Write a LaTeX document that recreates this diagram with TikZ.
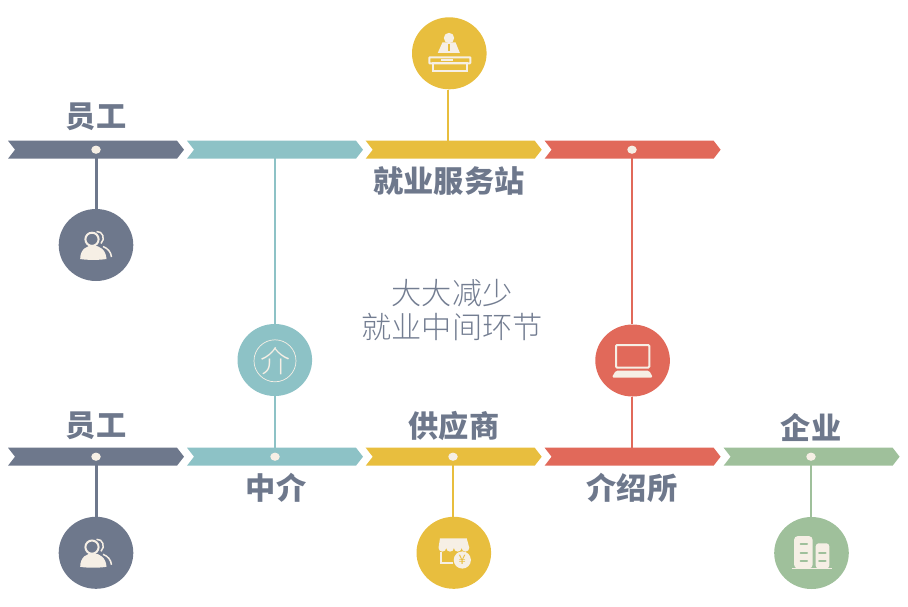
\documentclass[tikz,border=0pt]{standalone}
\usepackage{fontspec}
\usetikzlibrary{shapes.geometric}
\newfontfamily\cjk{Noto Sans CJK SC}
\newfontfamily\cjklight{Noto Sans CJK SC Light}
\definecolor{slate}{HTML}{6E788C}
\definecolor{teal2}{HTML}{8DC2C6}
\definecolor{yel}{HTML}{E8BE3E}
\definecolor{redd}{HTML}{E1695A}
\definecolor{grn}{HTML}{9FC09B}
\definecolor{cream}{HTML}{F6EFE5}
\definecolor{midtxt}{HTML}{737D91}
\newcommand{\chevbar}[3]{\fill[#3] (#1,#2-9) -- (#1+169,#2-9) -- (#1+176,#2) -- (#1+169,#2+9) -- (#1,#2+9) -- (#1+7,#2) -- cycle;}
\tikzset{
  x=1pt,y=-1pt,
  disc/.style={ellipse,minimum width=74.6pt,minimum height=72pt,inner sep=0pt,fill=#1},
  pin/.style={ellipse,minimum width=9.5pt,minimum height=8.2pt,inner sep=0pt,fill=cream},
  lab/.style={font=\cjk\bfseries\fontsize{30.2}{32}\selectfont,text=slate,inner sep=0pt},
  mid/.style={font=\cjklight\fontsize{30.2}{33}\selectfont,text=midtxt,inner sep=0pt},
  link/.style={line width=2pt,draw=#1},
  ink/.style={draw=cream,line width=2pt,fill=none},
  pics/people/.style={code={
    \draw[ink] (-4,-5.7) circle[radius=6.6];
    \fill[cream] (-15.8,14) .. controls (-15.8,4) and (-9,0.5) .. (-3,0.5) .. controls (4,0.5) and (10,5) .. (10.5,14) .. controls (3,15.2) and (-9,15.2) .. (-15.8,14) -- cycle;
    \draw[draw=cream,line width=1.5pt] (0.5,-13.5) .. controls (7,-14) and (9.5,-6) .. (5,-1.5);
    \draw[draw=cream,line width=1.5pt] (7,1.5) .. controls (12,3.5) and (15,7) .. (15.5,12);
  }},
  pics/desk/.style={code={
    \fill[cream] (-0.3,-15.3) circle[radius=5.2];
    \fill[cream] (-6.8,-11) -- (6.2,-11) -- (10.5,-0.5) -- (-11.5,-0.5) -- cycle;
    \draw[yel,line width=1.8pt] (-0.3,-9.5) -- (-0.3,-2);
    \draw[ink,rounded corners=0.6pt] (-20,4) rectangle (21,10);
    \draw[ink] (-16.5,10) rectangle (17.7,17.5);
    \fill[cream] (-8.5,5.5) rectangle (3.5,8);
  }},
  pics/laptop/.style={code={
    \draw[draw=cream,line width=2pt,rounded corners=1pt] (-16.6,-15.5) rectangle (16.7,7);
    \fill[cream,rounded corners=1.5pt] (-20.8,17) -- (20.3,17) -- (16.6,10.2) -- (-16.8,10.2) -- cycle;
  }},
  pics/shop/.style={code={
    \fill[cream] (-13.8,-14.5) -- (12.9,-14.5) -- (15.5,-5)
      arc[start angle=0,end angle=180,radius=3.85]
      arc[start angle=0,end angle=180,radius=3.85]
      arc[start angle=0,end angle=180,radius=3.85]
      arc[start angle=0,end angle=180,radius=3.85] -- cycle;
    \draw[draw=cream,line width=1.6pt] (-13.1,-1.2) -- (-13.1,9.9) -- (-1,9.9);
    \fill[cream] (8.5,7.2) circle[radius=8.6];
  }},
  pics/towers/.style={code={
    \fill[cream,rounded corners=4pt] (-17.5,15.5) -- (-17.5,-17) -- (1.2,-17) -- (1.2,15.5) -- cycle;
    \fill[cream,rounded corners=3pt] (4.2,15.5) -- (4.2,-9.7) -- (17.8,-9.7) -- (17.8,15.5) -- cycle;
    \draw[draw=cream,line width=1.5pt] (-19.8,15.6) -- (20.8,15.6);
    \foreach \yy in {-8.8,-0.5,7.5} \draw[grn,line width=2pt,line cap=round] (-11,\yy) -- (-4.5,\yy);
    \foreach \yy in {-0.5,7.5} \draw[grn,line width=2pt,line cap=round] (7.5,\yy) -- (14,\yy);
  }},
}
\begin{document}
\begin{tikzpicture}
\useasboundingbox (0,0) rectangle (908,606);
% bars
\chevbar{8}{149.7}{slate}
\chevbar{187}{149.7}{teal2}
\chevbar{365.7}{149.7}{yel}
\chevbar{544.6}{149.7}{redd}
\chevbar{8}{456.7}{slate}
\chevbar{187}{456.7}{teal2}
\chevbar{365.7}{456.7}{yel}
\chevbar{544.6}{456.7}{redd}
\chevbar{723.6}{456.7}{grn}
% free ends on the bars
\coordinate (barT) at (275,158);
\coordinate (barY) at (448,141);
\coordinate (barR) at (632,448);
% discs and pins
\node[disc=slate] (d1) at (96,245) {};
\node[disc=yel] (d2) at (449.3,53.3) {};
\node[disc=teal2] (d3) at (274.8,360) {};
\node[disc=redd] (d4) at (632.6,360.5) {};
\node[disc=slate] (d5) at (96,552.8) {};
\node[disc=yel] (d6) at (453.8,552.8) {};
\node[disc=grn] (d7) at (811.5,553) {};
\node[pin] (p1) at (96,149.7) {};
\node[pin] (p2) at (632,149.7) {};
\node[pin] (p3) at (96,456.7) {};
\node[pin] (p4) at (275,456.7) {};
\node[pin] (p5) at (453,456.7) {};
\node[pin] (p6) at (811,456.7) {};
% connectors
\draw[link=slate,line width=3pt] (p1) -- (d1);
\draw[link=teal2] (barT) -- (d3.north -| barT);
\draw[link=yel] (d2.south -| barY) -- (barY);
\draw[link=redd] (p2) -- (d4.north -| p2);
\draw[link=slate,line width=3pt] (p3) -- (d5);
\draw[link=teal2] (d3.south -| p4) -- (p4);
\draw[link=redd] (d4.south -| barR) -- (barR);
\draw[link=yel] (p5) -- (d6.north -| p5);
\draw[link=grn] (p6) -- (d7.north -| p6);
% icons
\path (d1.center) pic {people};
\path (d5.center) pic {people};
\path (d2.center) pic {desk};
\node[circle,draw=cream,line width=0.7pt,minimum size=42pt,inner sep=0pt] (ring) at (275,360.8) {};
\node[text=cream,font=\cjklight\fontsize{30}{30}\selectfont,inner sep=0pt] (jie) at (ring.center) {介};
\path (d4.center) pic {laptop};
\path (d6.center) pic {shop};
\node[text=yel,font=\cjk\fontsize{13}{13}\selectfont,inner sep=0pt] (yen) at (462.3,560) {¥};
\path (d7.center) pic {towers};
% labels
\node[lab] (t1) at (96,117) {员工};
\node[lab] (t2) at (449,181) {就业服务站};
\node[lab] (t3) at (96,426) {员工};
\node[lab] (t4) at (454,426) {供应商};
\node[lab] (t5) at (811,427) {企业};
\node[lab] (t6) at (276,488) {中介};
\node[lab] (t7) at (632,488) {介绍所};
\node[mid] (t8) at (452,293) {大大减少};
\node[mid] (t9) at (452,327) {就业中间环节};
\end{tikzpicture}
\end{document}
